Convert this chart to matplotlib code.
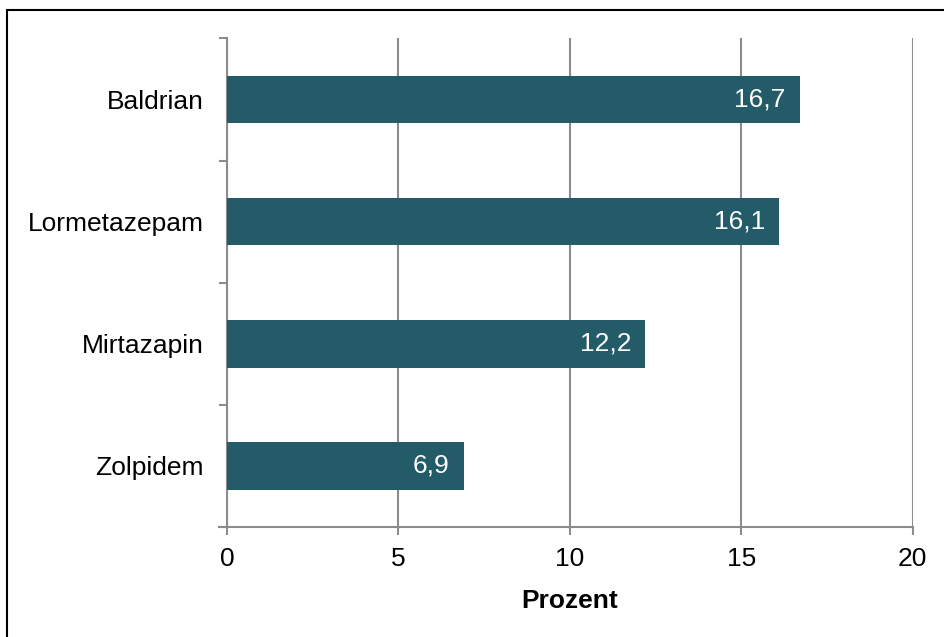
import matplotlib
matplotlib.use("Agg")
from matplotlib import pyplot as plt
from matplotlib.patches import Rectangle
from matplotlib.transforms import offset_copy

plt.rcParams['font.family'] = ['Liberation Sans', 'DejaVu Sans']

drugs = ['Baldrian', 'Lormetazepam', 'Mirtazapin', 'Zolpidem']
percent = [16.7, 16.1, 12.2, 6.9]
value_labels = ['16,7', '16,1', '12,2', '6,9']
xticks = [0, 5, 10, 15, 20]

bar_color = '#235B68'
axis_gray = '#8C8C8C'
fs = 19

fig = plt.figure(figsize=(9.45, 6.37), dpi=100)
ax = fig.add_axes([0.2402, 0.1727, 0.7256, 0.7669])

pos = list(range(len(drugs)))[::-1]
ax.barh(pos, percent, height=0.39, color=bar_color, zorder=3)

trans = offset_copy(ax.transData, fig=fig, x=-10, y=0, units='points')
for p, v, lab in zip(pos, percent, value_labels):
    ax.text(v, p, lab, color='white', fontsize=fs, ha='right', va='center',
            transform=trans, zorder=4)

ax.set_xlim(0, 20)
ax.set_ylim(-0.5, len(drugs) - 0.5)
ax.set_xticks(xticks)
ax.set_xticklabels([str(t) for t in xticks], fontsize=fs)
ax.xaxis.grid(True, color=axis_gray, linewidth=1.5, zorder=0)

# category labels sit between the boundary ticks
ax.set_yticks([p + 0.5 for p in range(len(drugs) - 1)] + [-0.5, len(drugs) - 0.5])
ax.set_yticklabels([])
ax.set_yticks(pos, minor=True)
ax.set_yticklabels(drugs, minor=True, fontsize=fs)
ax.tick_params(axis='y', which='major', length=5.5, width=1.5, color=axis_gray, direction='out')
ax.tick_params(axis='y', which='minor', length=0, pad=17)
ax.tick_params(axis='x', length=5.5, width=1.5, color=axis_gray, pad=9)

for side in ['top', 'right']:
    ax.spines[side].set_visible(False)
for side in ['left', 'bottom']:
    ax.spines[side].set_color(axis_gray)
    ax.spines[side].set_linewidth(1.5)
ax.spines['bottom'].set_bounds(-0.23, 20)
ax.set_xlabel('Prozent', fontsize=fs, fontweight='bold', labelpad=13)

fig.patches.append(Rectangle((7 / 945, -0.1), 1.2, 1 - 10 / 637 + 0.1,
                             transform=fig.transFigure, fill=False,
                             edgecolor='black', linewidth=1.5))

fig.savefig('out.png', dpi=100)
